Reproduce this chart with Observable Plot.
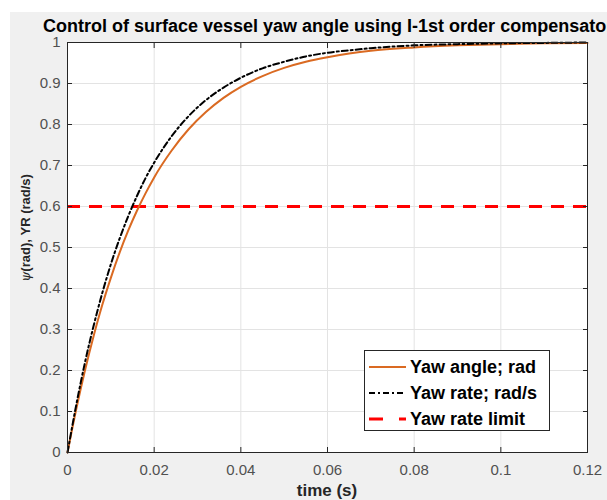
<!DOCTYPE html>
<html>
<head>
<meta charset="utf-8">
<script src="https://cdn.jsdelivr.net/npm/d3@7"></script>
<script src="https://cdn.jsdelivr.net/npm/@observablehq/plot@0.6"></script>
<style>
  html, body { margin: 0; padding: 0; background: #ffffff; }
  #wrap { position: relative; width: 607px; height: 500px; overflow: hidden; font-family: "Liberation Sans", Arial, sans-serif; }
  #fig { position: absolute; left: 10px; top: 12px; right: 0; bottom: 0; background: #f0f0f0; }
  #chart { position: absolute; left: 0; top: 0; }
  #title { position: absolute; left: 43px; top: 16px; font-weight: bold; font-size: 18px; line-height: 20px; color: #000; white-space: nowrap; }
  #ylab { position: absolute; left: 25px; top: 228px; transform: translate(-50%, -50%) rotate(-90deg); font-weight: bold; font-size: 13px; color: #262626; white-space: nowrap; }
  #ylab i { font-family: "DejaVu Serif", "Liberation Serif", serif; font-weight: normal; }
  #xlab { position: absolute; left: 0; width: 654px; top: 481px; text-align: center; font-weight: bold; font-size: 17px; line-height: 19px; color: #262626; white-space: nowrap; }
  #legend { position: absolute; left: 364px; top: 350px; width: 186px; height: 81px; box-sizing: border-box; border: 1px solid #262626; background: #fff; }
  .row { position: absolute; left: 4px; height: 22px; display: flex; align-items: center; font-weight: bold; font-size: 18px; color: #000; white-space: nowrap; }
  .row svg { margin-right: 4px; }
</style>
</head>
<body>
<div id="wrap">
  <div id="fig"></div>
  <div id="chart"></div>
  <div id="title"></div>
  <div id="ylab"></div>
  <div id="xlab"></div>
  <div id="legend"></div>
</div>
<script>
const titleText = "Control of surface vessel yaw angle using I-1st order compensator";
const xLabelText = "time (s)";
const yLabelPsi = "ψ";
const yLabelRest = "(rad), YR (rad/s)";

const time = [0, 0.002, 0.004, 0.006, 0.008, 0.010, 0.012, 0.014, 0.016, 0.018, 0.020,
  0.024, 0.028, 0.032, 0.036, 0.040, 0.045, 0.050, 0.055, 0.060, 0.065, 0.070,
  0.080, 0.090, 0.100, 0.110, 0.120];
const yawAngle = [0, 0.105, 0.199, 0.283, 0.359, 0.426, 0.487, 0.541, 0.589, 0.632, 0.671,
  0.736, 0.789, 0.831, 0.865, 0.892, 0.918, 0.938, 0.953, 0.964, 0.973, 0.980,
  0.988, 0.993, 0.996, 0.998, 0.999];
const yawRate = [0, 0.115, 0.218, 0.308, 0.388, 0.459, 0.521, 0.576, 0.625, 0.669, 0.707,
  0.771, 0.821, 0.860, 0.890, 0.914, 0.937, 0.953, 0.966, 0.975, 0.981, 0.986,
  0.993, 0.996, 0.998, 0.999, 1.000];
const yawRateLimit = [0.6];

const seriesNames = ["Yaw angle; rad", "Yaw rate; rad/s", "Yaw rate limit"];
const seriesColors = ["#DA6A22", "#000000", "#FF0000"];
const seriesDash = [null, "6,3,2,3", "13,9"];
const seriesWidth = [2, 2, 3];

const xTicks = [0, 0.02, 0.04, 0.06, 0.08, 0.1, 0.12];
const xTickLabels = ["0", "0.02", "0.04", "0.06", "0.08", "0.1", "0.12"];
const yTicks = [0, 0.1, 0.2, 0.3, 0.4, 0.5, 0.6, 0.7, 0.8, 0.9, 1];
const yTickLabels = ["0", "0.1", "0.2", "0.3", "0.4", "0.5", "0.6", "0.7", "0.8", "0.9", "1"];

const angleData = time.map((t, i) => ({t, v: yawAngle[i]}));
const rateData = time.map((t, i) => ({t, v: yawRate[i]}));

const tickColor = "#262626";
const labelColor = "#505050";
const chart = Plot.plot({
  width: 607,
  height: 500,
  marginLeft: 67,
  marginRight: 20,
  marginTop: 42,
  marginBottom: 48,
  style: { background: "transparent", fontFamily: "Liberation Sans, Arial, sans-serif", fontSize: "15px", color: labelColor },
  x: { domain: [0, 0.12] },
  y: { domain: [0, 1] },
  marks: [
    Plot.frame({ fill: "white" }),
    Plot.gridX(xTicks, { stroke: "#e3e3e3", strokeOpacity: 1 }),
    Plot.gridY(yTicks, { stroke: "#e3e3e3", strokeOpacity: 1 }),
    Plot.ruleY(yawRateLimit, { stroke: seriesColors[2], strokeWidth: seriesWidth[2], strokeDasharray: seriesDash[2] }),
    Plot.line(angleData, { x: "t", y: "v", stroke: seriesColors[0], strokeWidth: seriesWidth[0], curve: "monotone-x" }),
    Plot.line(rateData, { x: "t", y: "v", stroke: seriesColors[1], strokeWidth: seriesWidth[1], strokeDasharray: seriesDash[1], curve: "monotone-x" }),
    Plot.frame({ stroke: tickColor, strokeWidth: 1 }),
    Plot.axisX(xTicks, { anchor: "bottom", tickSize: -5, tickPadding: 17, stroke: tickColor, fill: labelColor, label: null, tickFormat: (d, i) => xTickLabels[i] }),
    Plot.axisX(xTicks, { anchor: "top", tickSize: -5, stroke: tickColor, label: null, tickFormat: () => "" }),
    Plot.axisY(yTicks, { anchor: "left", tickSize: -5, tickPadding: 12, stroke: tickColor, fill: labelColor, label: null, tickFormat: (d, i) => yTickLabels[i] }),
    Plot.axisY(yTicks, { anchor: "right", tickSize: -5, stroke: tickColor, label: null, tickFormat: () => "" })
  ]
});
document.getElementById("chart").appendChild(chart);

document.getElementById("title").textContent = titleText;
document.getElementById("xlab").textContent = xLabelText;
const yl = document.getElementById("ylab");
const it = document.createElement("i"); it.textContent = yLabelPsi;
yl.appendChild(it);
yl.appendChild(document.createTextNode(yLabelRest));

const legend = document.getElementById("legend");
const rowTops = [5, 31, 57];
seriesNames.forEach((name, i) => {
  const row = document.createElement("div");
  row.className = "row";
  row.style.top = rowTops[i] + "px";
  const ns = "http://www.w3.org/2000/svg";
  const svg = document.createElementNS(ns, "svg");
  svg.setAttribute("width", 37); svg.setAttribute("height", 20);
  const ln = document.createElementNS(ns, "line");
  ln.setAttribute("x1", 0); ln.setAttribute("x2", 37);
  ln.setAttribute("y1", 10); ln.setAttribute("y2", 10);
  ln.setAttribute("stroke", seriesColors[i]);
  ln.setAttribute("stroke-width", seriesWidth[i]);
  if (i === 2) ln.setAttribute("stroke-dasharray", "14,16");
  else if (seriesDash[i]) ln.setAttribute("stroke-dasharray", seriesDash[i]);
  svg.appendChild(ln);
  row.appendChild(svg);
  const sp = document.createElement("span");
  sp.textContent = name;
  row.appendChild(sp);
  legend.appendChild(row);
});
</script>
</body>
</html>
